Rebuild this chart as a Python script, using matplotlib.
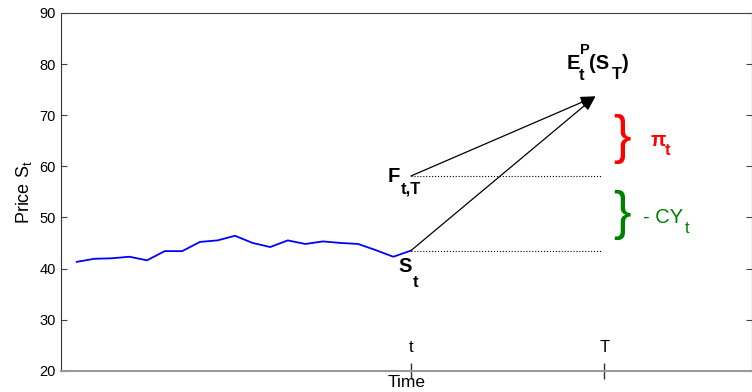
import numpy as np
import matplotlib
matplotlib.use("Agg")
import matplotlib.pyplot as plt

plt.rcParams['font.family'] = ['Liberation Sans', 'DejaVu Sans']
plt.rcParams['mathtext.fontset'] = 'custom'
plt.rcParams['mathtext.rm'] = 'Liberation Sans'
plt.rcParams['mathtext.it'] = 'Liberation Sans'
plt.rcParams['mathtext.bf'] = 'Liberation Sans:bold'

# price path up to today (t)
time = np.arange(1, 21)
price = [41.3, 41.9, 42.0, 42.3, 41.6, 43.4, 43.4, 45.2, 45.5, 46.4,
         45.0, 44.2, 45.5, 44.8, 45.3, 45.0, 44.8, 43.6, 42.3, 43.5]

t_now = 20
t_mat = 31
spot = 43.5
forward = 58.1
expected = 73.7
arrow_x = 30.5
dot_end = 30.8
yticks = [20, 30, 40, 50, 60, 70, 80, 90]

fig = plt.figure(figsize=(7.52, 3.92), dpi=100)
ax = fig.add_axes([60.7 / 752, 21.3 / 392, (752 - 60.7) / 752, (370.7 - 13) / 392])

ax.plot(time, price, color='blue', lw=1.3)

# dotted levels for spot and forward
ax.plot([t_now, dot_end], [spot, spot], ':', color='black', lw=0.8)
ax.plot([t_now, dot_end], [forward, forward], ':', color='black', lw=0.8)

# arrows towards expected price at T
for y0 in [spot, forward]:
    ax.annotate('', xy=(arrow_x, expected), xytext=(t_now, y0),
                arrowprops=dict(arrowstyle='-|>,head_length=0.9,head_width=0.35',
                                color='black', lw=0.9, shrinkA=0, shrinkB=0))


def piece(x, y, s, size=14.5, **kw):
    ax.text(x, y, s, fontsize=size, ha='left', va='baseline', **kw)


# E_t^P(S_T)
piece(28.86, 79.05, 'E', fontweight='bold')
piece(29.55, 76.95, 't', size=12, fontweight='bold')
piece(29.62, 82.0, 'P', size=10.5, fontweight='bold')
piece(30.12, 79.05, '(S', fontweight='bold')
piece(31.4, 77.1, 'T', size=12, fontweight='bold')
piece(32.0, 79.05, ')', fontweight='bold')

# F_{t,T}
piece(18.70, 57.0, 'F', fontweight='bold')
piece(19.45, 54.6, 't,T', size=12, fontweight='bold')

# S_t
piece(19.27, 39.4, 'S', fontweight='bold')
piece(20.1, 36.3, 't', size=12, fontweight='bold')

# braces for risk premium and convenience yield
ax.text(32.0, 65.4, '}', fontsize=38, color='red', ha='center', va='center')
ax.text(32.0, 50.5, '}', fontsize=38, color='green', ha='center', va='center')
piece(33.6, 64.0, 'π', color='red', fontweight='bold')
piece(34.45, 62.3, 't', size=12, color='red', fontweight='bold')
piece(33.2, 48.95, '- CY', color='green')
piece(35.58, 47.0, 't', size=12, color='green')

# time markers
ax.text(t_now, 24.5, 't', fontsize=12, ha='center', va='center')
ax.text(t_mat, 24.5, 'T', fontsize=12, ha='center', va='center')

ax.set_xlim(0.09, 39.39)
ax.set_ylim(20, 90)
ax.set_yticks(yticks)
ax.set_xticks([t_now, t_mat])
ax.set_xticklabels(['', ''])
ax.tick_params(axis='y', direction='in', length=4, right=True, labelsize=10.5,
               color='#444')
ax.tick_params(axis='x', direction='inout', length=11, width=1, color='#333')

ax.spines['left'].set_color('#333')
ax.spines['top'].set_color('#444')
ax.spines['bottom'].set_color('#999')
ax.spines['bottom'].set_linewidth(1.5)

ax.set_ylabel(r'Price S$_t$', fontsize=13, labelpad=4)
ax.set_xlabel('Time', fontsize=12.5, labelpad=-6)

fig.savefig('out.png', dpi=100)
